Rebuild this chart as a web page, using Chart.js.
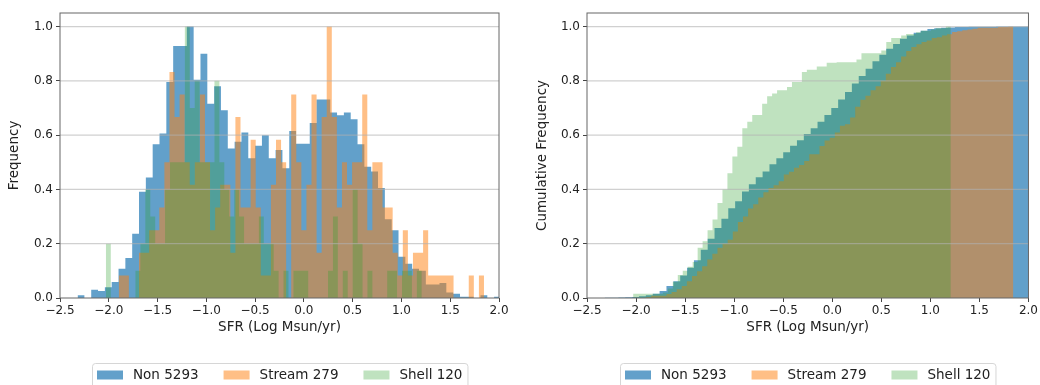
<!DOCTYPE html>
<html>
<head>
<meta charset="utf-8">
<title>SFR histograms</title>
<script src="https://cdn.jsdelivr.net/npm/chart.js@4.4.1/dist/chart.umd.min.js"></script>
<style>
  html, body { margin: 0; padding: 0; background: #fff; }
  .wrap { position: relative; width: 1040px; height: 385px; overflow: hidden; }
  .panel { position: absolute; top: 0; width: 520px; height: 385px; }
  #left { left: 0; }
  #right { left: 520px; }
</style>
</head>
<body>
<div class="wrap">
  <div class="panel" id="left"><canvas id="histChart" width="520" height="385"></canvas></div>
  <div class="panel" id="right"><canvas id="cumChart" width="520" height="385"></canvas></div>
</div>
<script>
// Sample names shown in the legends
const seriesNames = ['Non 5293', 'Stream 279', 'Shell 120'];

// Axis ticks (SFR in log Msun/yr, frequency)
const xTicks = [-2.5, -2.0, -1.5, -1.0, -0.5, 0.0, 0.5, 1.0, 1.5, 2.0];
const yTicks = [0.0, 0.2, 0.4, 0.6, 0.8, 1.0];

// Histogram bins: first edge and bin width for each sample
const nonStart = -2.32, nonWidth = 0.07;
const streamStart = -1.898, streamWidth = 0.052;
const shellStart = -2.03, shellWidth = 0.0506;

// Frequency per bin, scaled to the tallest bin
const nonFreq = [
  0.01, 0, 0.03, 0.026, 0.04, 0.059, 0.108, 0.147, 0.237, 0.391,
  0.444, 0.566, 0.606, 0.796, 0.928, 0.928, 1.0, 0.804, 0.90, 0.716,
  0.78, 0.692, 0.551, 0.576, 0.61, 0.515, 0.561, 0.60, 0.515, 0.545,
  0.478, 0.615, 0.568, 0.568, 0.645, 0.731, 0.731, 0.683, 0.673, 0.683,
  0.659, 0.566, 0.484, 0.466, 0.405, 0.29, 0.25, 0.152, 0.126, 0.108,
  0.10, 0.05, 0.05, 0.055, 0.02, 0.016, 0.005, 0.005, 0, 0.01,
  0, 0.005
];
const streamFreq = [
  0.083, 0.083, 0, 0, 0.167, 0.167, 0.25, 0.25, 0.333, 0.5,
  0.833, 0.667, 0.75, 0.5, 0.417, 0.5, 0.75, 0.5, 0.25, 0.333,
  0.417, 0.417, 0.167, 0.667, 0.333, 0.333, 0.583, 0.333, 0.083, 0.083,
  0.417, 0.583, 0.5, 0, 0.75, 0.5, 0.25, 0.417, 0.75, 0.167,
  0.667, 1.0, 0.667, 0.333, 0.5, 0.417, 0.5, 0.5, 0.75, 0.25,
  0.5, 0.5, 0.333, 0.333, 0.167, 0.083, 0.25, 0.083, 0.167, 0.167,
  0.25, 0.083, 0.083, 0.083, 0.083, 0.083, 0, 0, 0, 0.083,
  0, 0.083
];
const shellFreq = [
  0.2, 0, 0, 0, 0, 0, 0.1, 0.2, 0.4, 0.3,
  0.2, 0.2, 0.4, 0.5, 0.5, 0.5, 1.0, 0.7, 0.8, 0.5,
  0.5, 0.5, 0.8, 0.5, 0.4, 0.3, 0.4, 0.3, 0.2, 0.2,
  0.2, 0.3, 0.2, 0.2, 0.1, 0, 0.1, 0, 0.1, 0.1,
  0.1, 0, 0, 0, 0, 0.1, 0.3, 0, 0.1, 0,
  0.4, 0.2, 0, 0.1, 0, 0, 0, 0.1, 0.1, 0,
  0.1, 0.1, 0, 0.1
];

// Cumulative frequency per bin
const nonCum = [
  0.001, 0.001, 0.002, 0.003, 0.004, 0.006, 0.01, 0.016, 0.026, 0.044,
  0.062, 0.083, 0.111, 0.139, 0.178, 0.218, 0.258, 0.292, 0.331, 0.356,
  0.392, 0.419, 0.445, 0.466, 0.493, 0.515, 0.537, 0.561, 0.581, 0.604,
  0.625, 0.649, 0.674, 0.70, 0.731, 0.759, 0.79, 0.818, 0.845, 0.872,
  0.896, 0.918, 0.936, 0.955, 0.967, 0.977, 0.985, 0.991, 0.994, 0.996,
  0.997, 0.998, 0.998, 0.999, 0.999, 0.999, 0.999, 1.0, 1.0, 1.0,
  1.0, 1.0
];
const streamCum = [
  0.004, 0.008, 0.008, 0.008, 0.015, 0.022, 0.032, 0.044, 0.062, 0.081,
  0.099, 0.117, 0.142, 0.163, 0.185, 0.2, 0.215, 0.245, 0.28, 0.30,
  0.33, 0.345, 0.37, 0.39, 0.405, 0.415, 0.43, 0.455, 0.465, 0.48,
  0.49, 0.505, 0.53, 0.53, 0.56, 0.58, 0.59, 0.61, 0.635, 0.64,
  0.665, 0.705, 0.73, 0.745, 0.765, 0.78, 0.80, 0.826, 0.851, 0.869,
  0.89, 0.91, 0.925, 0.935, 0.943, 0.949, 0.958, 0.961, 0.967, 0.972,
  0.98, 0.983, 0.986, 0.989, 0.992, 0.996, 0.996, 0.996, 0.996, 0.998,
  0.998, 1.0
];
const shellCum = [
  0.016, 0.016, 0.016, 0.016, 0.016, 0.016, 0.02, 0.035, 0.06, 0.085,
  0.10, 0.115, 0.133, 0.185, 0.209, 0.25, 0.289, 0.35, 0.40, 0.46,
  0.521, 0.557, 0.625, 0.649, 0.674, 0.674, 0.716, 0.743, 0.753, 0.765,
  0.765, 0.777, 0.796, 0.796, 0.833, 0.841, 0.841, 0.853, 0.853, 0.867,
  0.867, 0.869, 0.869, 0.869, 0.869, 0.879, 0.902, 0.902, 0.902, 0.902,
  0.912, 0.943, 0.958, 0.958, 0.967, 0.973, 0.973, 0.979, 0.985, 0.985,
  0.989, 0.994, 0.994, 1.0
];

const colors = ['rgba(31,119,180,0.7)', 'rgba(255,127,14,0.5)', 'rgba(44,160,44,0.3)'];
const FONT = '"DejaVu Sans", sans-serif';
const TEXT = '#222';
const LABEL_SIZE = 13.5;

// turn bin heights into step points: one point per left edge plus the last right edge
function steps(start, width, values) {
  const pts = values.map((v, i) => ({x: start + i * width, y: v}));
  pts.push({x: start + values.length * width, y: values[values.length - 1]});
  return pts;
}

function histSet(i, start, width, values) {
  return {
    label: seriesNames[i],
    data: steps(start, width, values),
    backgroundColor: colors[i],
    borderWidth: 0,
    pointRadius: 0,
    stepped: true,
    fill: 'origin',
    order: 3 - i
  };
}

// gridlines sit above the bars, then the frame round the plot
const gridAndFrame = {
  id: 'gridAndFrame',
  afterDatasetsDraw(chart) {
    const {ctx, chartArea: a, scales: {y}} = chart;
    ctx.save();
    ctx.strokeStyle = 'rgba(176,176,176,0.6)';
    ctx.lineWidth = 1.3;
    yTicks.forEach(v => {
      if (v <= 0) return;
      const py = y.getPixelForValue(v);
      ctx.beginPath();
      ctx.moveTo(a.left, py);
      ctx.lineTo(a.right, py);
      ctx.stroke();
    });
    ctx.strokeStyle = '#666';
    ctx.lineWidth = 1;
    ctx.strokeRect(a.left, a.top, a.right - a.left, a.bottom - a.top);
    ctx.restore();
  }
};

// legend box under each plot, three columns
const bottomLegend = {
  id: 'bottomLegend',
  afterDraw(chart) {
    const {ctx, chartArea: a} = chart;
    const handle = 26, handleH = 9, textGap = 10, colGap = 25, pad = 5;
    ctx.save();
    ctx.font = LABEL_SIZE + 'px ' + FONT;
    const items = chart.data.datasets.map(ds => ({
      label: ds.label, color: ds.backgroundColor, w: ctx.measureText(ds.label).width
    }));
    let total = pad * 2 + colGap * (items.length - 1);
    items.forEach(it => { total += handle + textGap + it.w; });
    const boxLeft = Math.round((a.left + a.right) / 2 - total / 2);
    const boxTop = 363, cy = 375;

    ctx.beginPath();
    ctx.roundRect(boxLeft + 0.5, boxTop + 0.5, total, 30, 3);
    ctx.fillStyle = 'rgba(255,255,255,0.8)';
    ctx.fill();
    ctx.strokeStyle = '#d6d6d6';
    ctx.lineWidth = 1;
    ctx.stroke();

    let x = boxLeft + pad;
    ctx.textBaseline = 'middle';
    items.forEach(it => {
      ctx.fillStyle = it.color;
      ctx.fillRect(x, cy - handleH / 2, handle, handleH);
      x += handle + textGap;
      ctx.fillStyle = TEXT;
      ctx.fillText(it.label, x, cy + 0.5);
      x += it.w + colGap;
    });
    ctx.restore();
  }
};

function makeChart(id, yTitle, sets, pad, yWidth) {
  return new Chart(document.getElementById(id), {
    type: 'line',
    data: {datasets: sets},
    options: {
      responsive: false,
      animation: false,
      layout: {padding: pad},
      plugins: {legend: {display: false}, tooltip: {enabled: false}},
      scales: {
        x: {
          type: 'linear',
          min: -2.5,
          max: 2.0,
          afterBuildTicks: s => { s.ticks = xTicks.map(v => ({value: v})); },
          afterFit: s => { s.height = 38; },
          ticks: {
            font: {family: FONT, size: 12},
            color: TEXT,
            padding: 2,
            maxRotation: 0,
            callback: v => (v < 0 ? '\u2212' : '') + Math.abs(v).toFixed(1)
          },
          grid: {drawOnChartArea: false, tickLength: 4, tickColor: '#444'},
          border: {display: false},
          title: {
            display: true,
            text: 'SFR (Log Msun/yr)',
            font: {family: FONT, size: LABEL_SIZE},
            color: TEXT,
            padding: 0
          }
        },
        y: {
          min: 0,
          max: 1.05,
          afterBuildTicks: s => { s.ticks = yTicks.map(v => ({value: v})); },
          afterFit: s => { s.width = yWidth; },
          ticks: {
            font: {family: FONT, size: 12},
            color: TEXT,
            padding: 3,
            callback: v => v.toFixed(1)
          },
          grid: {drawOnChartArea: false, tickLength: 4, tickColor: '#444'},
          border: {display: false},
          title: {
            display: true,
            text: yTitle,
            font: {family: FONT, size: LABEL_SIZE},
            color: TEXT,
            padding: 0
          }
        }
      }
    },
    plugins: [gridAndFrame, bottomLegend]
  });
}

makeChart('histChart', 'Frequency', [
  histSet(0, nonStart, nonWidth, nonFreq),
  histSet(1, streamStart, streamWidth, streamFreq),
  histSet(2, shellStart, shellWidth, shellFreq)
], {left: 6, right: 21, top: 13, bottom: 49}, 54);

makeChart('cumChart', 'Cumulative Frequency', [
  histSet(0, nonStart, nonWidth, nonCum),
  histSet(1, streamStart, streamWidth, streamCum),
  histSet(2, shellStart, shellWidth, shellCum)
], {left: 14, right: 11, top: 13, bottom: 49}, 53);
</script>
</body>
</html>
